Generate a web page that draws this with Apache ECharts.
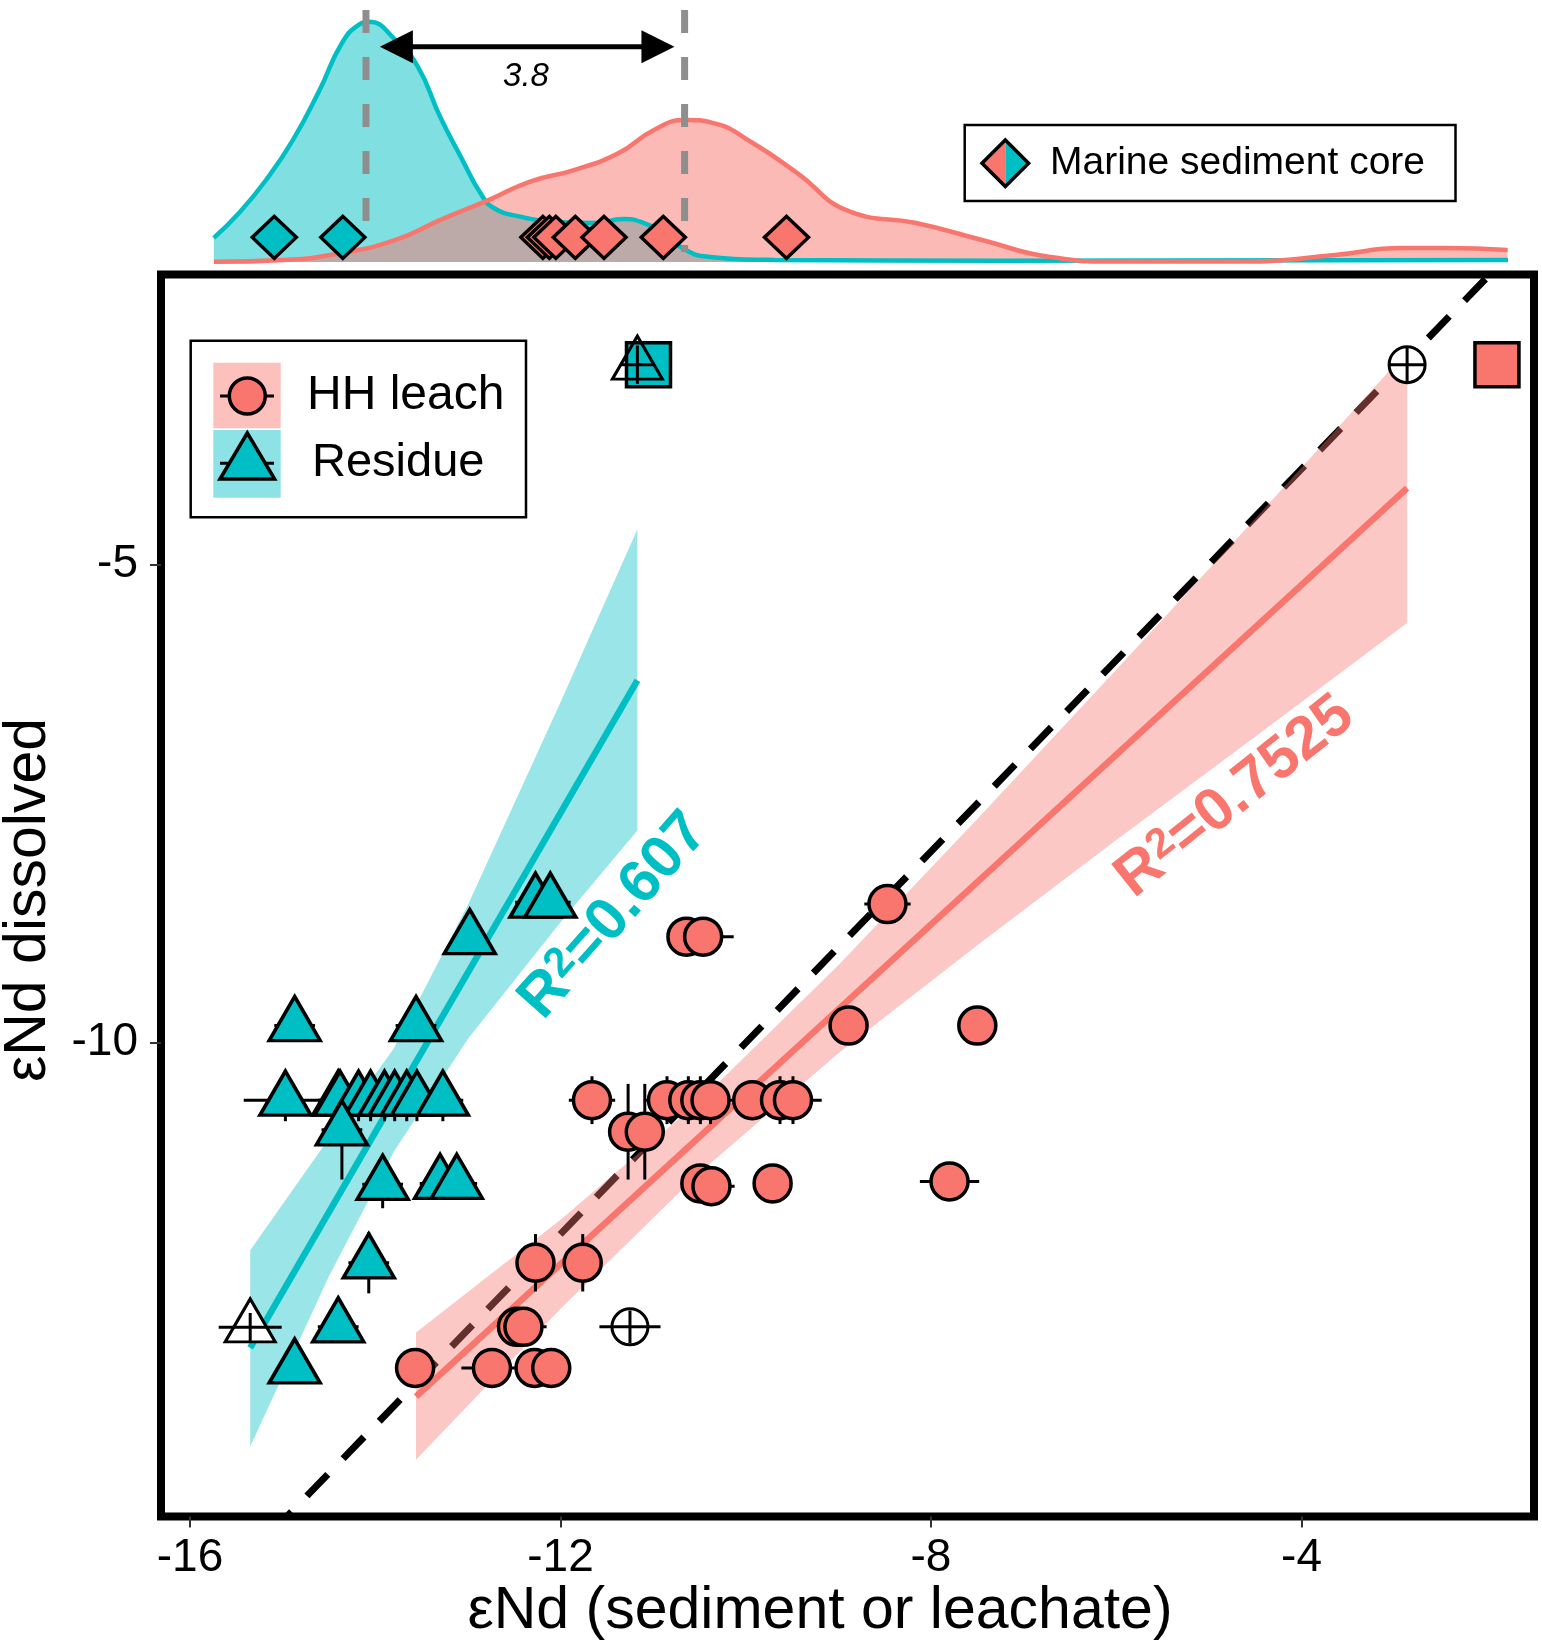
<!DOCTYPE html>
<html>
<head>
<meta charset="utf-8">
<title>eNd dissolved vs sediment</title>
<script src="https://cdn.jsdelivr.net/npm/echarts@6/dist/echarts.min.js"></script>
<style>
    html, body { margin: 0; padding: 0; background: #fff; }
    #main { width: 1542px; height: 1652px; }
</style>
</head>
<body>
<div id="main"></div>
<script>
var SALMON = '#F8766D';
var TEAL = '#00BFC4';
var FONT = "'Liberation Sans', Arial, Helvetica, sans-serif";

/* HH leach: x, y, x error, y error */
var leachX = [-8.47, -10.64, -10.46, -8.89, -7.50, -11.66, -10.85, -10.62, -10.49, -10.38, -9.93, -9.63, -9.49,
    -11.27, -11.09, -10.49, -10.37, -9.71, -7.80, -12.27, -11.76, -12.47, -12.40, -13.57, -12.74, -12.28, -12.10];
var leachY = [-8.55, -8.89, -8.89, -9.82, -9.82, -10.60, -10.60, -10.60, -10.60, -10.60, -10.60, -10.60, -10.60,
    -10.93, -10.93, -11.47, -11.50, -11.47, -11.45, -12.30, -12.30, -12.97, -12.97, -13.40, -13.40, -13.40, -13.40];
var leachXErr = [0.25, 0, 0.33, 0, 0, 0.25, 0.25, 0.25, 0.25, 0.25, 0, 0.25, 0.31,
    0, 0, 0, 0.25, 0, 0.32, 0, 0, 0, 0.25, 0, 0.33, 0, 0];
var leachYErr = [0, 0, 0, 0, 0, 0.25, 0.25, 0.25, 0.25, 0.25, 0, 0.25, 0.25,
    0.5, 0.5, 0, 0, 0, 0, 0.3, 0.3, 0, 0, 0, 0, 0, 0];

/* Residue */
var residueX = [-14.87, -13.56, -14.97, -14.40, -14.38, -14.18, -14.05, -13.90, -13.79, -13.66, -13.55, -13.27,
    -14.36, -13.92, -13.30, -13.12, -14.07, -14.87, -14.40, -12.98, -12.27, -12.11];
var residueY = [-9.82, -9.82, -10.60, -10.60, -10.60, -10.60, -10.60, -10.60, -10.60, -10.60, -10.60, -10.60,
    -10.91, -11.48, -11.47, -11.47, -12.30, -13.40, -12.97, -8.91, -8.53, -8.53];
var residueXErr = [0.22, 0.22, 0.45, 0.22, 0.22, 0.22, 0.22, 0.22, 0.22, 0.22, 0.22, 0.22,
    0.22, 0.22, 0.22, 0.22, 0.22, 0.18, 0.22, 0.18, 0.22, 0.22];
var residueYErr = [0.1, 0.1, 0.22, 0.22, 0.22, 0.22, 0.22, 0.22, 0.22, 0.22, 0.22, 0.22,
    0.52, 0.25, 0.12, 0.12, 0.32, 0.1, 0.12, 0.1, 0.1, 0.1];

/* open (crossed) symbols and squares */
var openCircleX = [-11.25, -2.86];
var openCircleY = [-12.97, -2.91];
var openCircleXErr = [0.33, 0.19];
var openCircleYErr = [0.17, 0.19];
var openTriX = [-15.35, -11.17];
var openTriY = [-12.975, -2.91];
var openTriXErr = [0.34, 0.17];
var openTriYErr = [0.15, 0.2];
var tealSquare = [-11.05, -2.91];
var salmonSquare = [-1.89, -2.91];

/* 1:1 line, fits and confidence bands */
var oneToOne = [-16.3, -1.5];
var leachFitX = [-13.56, -2.86];
var leachFitY = [-13.70, -4.20];
var leachBandX = [-13.56, -12.0, -10.5, -9.0, -7.5, -6.0, -4.5, -2.86];
var leachBandLo = [-14.36, -12.78, -11.36, -10.11, -8.98, -7.88, -6.80, -5.61];
var leachBandHi = [-13.03, -11.85, -10.61, -9.19, -7.66, -6.10, -4.52, -2.77];
var residueFitX = [-15.35, -11.17];
var residueFitY = [-13.19, -6.21];
var residueBandX = [-15.35, -14.5, -13.8, -13.0, -12.0, -11.17];
var residueBandLo = [-14.22, -12.44, -11.14, -9.96, -8.74, -7.78];
var residueBandHi = [-12.17, -11.00, -10.06, -8.56, -6.44, -4.63];

/* marine sediment core: density (relative) */
var tealDensX = [-15.743, -15.471, -15.179, -14.888, -14.601, -14.359, -14.167, -14.070, -13.787, -13.539, -13.301,
    -13.058, -12.865, -12.720, -12.432, -12.094, -11.617, -11.325, -11.131, -10.893, -10.648, -10.408, -9.684, -7.255, -1.771];
var tealDensY = [0.092, 0.187, 0.313, 0.466, 0.656, 0.836, 0.908, 0.917, 0.850, 0.745, 0.555,
    0.389, 0.263, 0.206, 0.173, 0.154, 0.149, 0.164, 0.153, 0.111, 0.046, 0.020, 0.008, 0.005, 0.008];
var salmonDensX = [-15.741, -14.985, -14.359, -13.781, -13.301, -12.772, -12.335, -11.854, -11.371, -10.991, -10.648,
    -10.359, -9.925, -9.447, -8.874, -8.162, -7.449, -6.730, -6.014, -4.588, -3.638, -2.919, -2.442, -1.775];
var salmonDensY = [0.001, 0.008, 0.034, 0.084, 0.160, 0.237, 0.306, 0.351, 0.416, 0.504, 0.542,
    0.531, 0.454, 0.340, 0.192, 0.149, 0.084, 0.020, 0.002, 0.002, 0.027, 0.053, 0.053, 0.046];
var coreTealX = [-15.09, -14.35];
var coreSalmonX = [-12.19, -12.12, -12.05, -11.84, -11.53, -10.89, -9.56];
var coreRugY = 0.094;
var modeX = [-14.10, -10.66];
var modeTop = 0.962;
var modeBottom = [0.153, 0.038];
var arrowX = [-13.95, -10.77];
var arrowY = 0.822;

var xTicks = [-16, -12, -8, -4];
var yTicks = [-10, -5];

function pairs(xs, ys) {
    var out = [];
    for (var i = 0; i < xs.length; i++) {
        out.push([xs[i], ys[i]]);
    }
    return out;
}

function errRows(xs, ys, xe, ye) {
    var out = [];
    for (var i = 0; i < xs.length; i++) {
        out.push([xs[i], ys[i], xe[i], ye[i]]);
    }
    return out;
}

function renderErr(params, api) {
    var x = api.value(0), y = api.value(1), xe = api.value(2), ye = api.value(3);
    var kids = [];
    var st = { stroke: '#000', lineWidth: 3 };
    if (xe > 0) {
        var a = api.coord([x - xe, y]), b = api.coord([x + xe, y]);
        kids.push({ type: 'line', shape: { x1: a[0], y1: a[1], x2: b[0], y2: b[1] }, style: st });
    }
    if (ye > 0) {
        var c = api.coord([x, y - ye]), d = api.coord([x, y + ye]);
        kids.push({ type: 'line', shape: { x1: c[0], y1: c[1], x2: d[0], y2: d[1] }, style: st });
    }
    return { type: 'group', children: kids };
}

function bandRender(bx, lo, hi, color) {
    return function (params, api) {
        var pts = [];
        for (var i = 0; i < bx.length; i++) pts.push(api.coord([bx[i], hi[i]]));
        for (var j = bx.length - 1; j >= 0; j--) pts.push(api.coord([bx[j], lo[j]]));
        return { type: 'polygon', shape: { points: pts }, style: { fill: color } };
    };
}

function renderArrow(params, api) {
    var a = api.coord([arrowX[0], arrowY]);
    var b = api.coord([arrowX[1], arrowY]);
    var len = 33, half = 16.5;
    return {
        type: 'group',
        children: [
            { type: 'line', shape: { x1: a[0] + len - 2, y1: a[1], x2: b[0] - len + 2, y2: b[1] },
                style: { stroke: '#000', lineWidth: 5 } },
            { type: 'polygon', shape: { points: [[a[0], a[1]], [a[0] + len, a[1] - half], [a[0] + len, a[1] + half]] },
                style: { fill: '#000' } },
            { type: 'polygon', shape: { points: [[b[0], b[1]], [b[0] - len, b[1] - half], [b[0] - len, b[1] + half]] },
                style: { fill: '#000' } }
        ]
    };
}

function modeLine(i) {
    return {
        type: 'line', xAxisIndex: 1, yAxisIndex: 1, z: 3, symbol: 'none', silent: true,
        data: [[modeX[i], modeTop], [modeX[i], modeBottom[i]]],
        lineStyle: { color: '#8E8E8E', width: 7, type: [23, 24] }
    };
}

var openTriData = pairs(openTriX, openTriY).map(function (p, i) {
    return { value: p, itemStyle: { color: i === 0 ? '#fff' : 'rgba(0,0,0,0)' } };
});

var txt = function (text, x, y, size, extra) {
    var el = {
        type: 'text', x: x, y: y, z: 100,
        style: { text: text, x: 0, y: 0, fill: '#000', fontSize: size, fontFamily: FONT, align: 'center', verticalAlign: 'middle' }
    };
    for (var k in extra) {
        if (k === 'rotation') el.rotation = extra[k];
        else el.style[k] = extra[k];
    }
    return el;
};

// R² label with a real superscript
function rLabel(value, x, y, color, deg) {
    return txt('R{s|2}=' + value, x, y, 60, {
        fill: color, fontWeight: 'bold', rotation: deg * Math.PI / 180,
        rich: { s: { fontSize: 42, fontWeight: 'bold', fontFamily: FONT, fill: color, verticalAlign: 'top', lineHeight: 60 } }
    });
}

var chart = echarts.init(document.getElementById('main'));
var option = {
    backgroundColor: '#fff',
    animation: false,
    grid: [
        { left: 161, top: 274.5, right: 8, bottom: 135.5, show: true, borderColor: '#000', borderWidth: 8,
            backgroundColor: 'rgba(0,0,0,0)' },
        { left: 161, right: 8, top: 0, height: 262 }
    ],
    xAxis: [
        {
            gridIndex: 0, type: 'value', min: -16.313, max: -1.49,
            axisLine: { show: false }, splitLine: { show: false },
            axisTick: { show: true, customValues: xTicks, length: 11, lineStyle: { color: '#333', width: 2 } },
            axisLabel: { customValues: xTicks, fontSize: 46, color: '#000', margin: 19, fontFamily: FONT }
        },
        { gridIndex: 1, type: 'value', min: -16.313, max: -1.49, show: false }
    ],
    yAxis: [
        {
            gridIndex: 0, type: 'value', min: -14.953, max: -1.967,
            axisLine: { show: false }, splitLine: { show: false },
            axisTick: { show: true, customValues: yTicks, length: 11, lineStyle: { color: '#333', width: 2 } },
            axisLabel: { customValues: yTicks, fontSize: 46, color: '#000', margin: 23, fontFamily: FONT }
        },
        { gridIndex: 1, type: 'value', min: 0, max: 1, show: false }
    ],
    series: [
        // 1:1
        { type: 'line', z: 1, symbol: 'none', silent: true, data: pairs(oneToOne, oneToOne),
            lineStyle: { color: '#000', width: 7, type: [30, 22] } },
        // bands
        { type: 'custom', z: 2, silent: true, data: [[leachBandX[0], leachBandLo[0]]],
            renderItem: bandRender(leachBandX, leachBandLo, leachBandHi, 'rgba(248,118,109,0.4)') },
        { type: 'custom', z: 2, silent: true, data: [[residueBandX[0], residueBandLo[0]]],
            renderItem: bandRender(residueBandX, residueBandLo, residueBandHi, 'rgba(0,191,196,0.4)') },
        // fits
        { type: 'line', z: 3, symbol: 'none', silent: true, data: pairs(leachFitX, leachFitY),
            lineStyle: { color: SALMON, width: 6.5 } },
        { type: 'line', z: 3, symbol: 'none', silent: true, data: pairs(residueFitX, residueFitY),
            lineStyle: { color: TEAL, width: 6.5 } },
        // error bars
        { type: 'custom', z: 4, silent: true, renderItem: renderErr, encode: { x: 0, y: 1 },
            data: errRows(leachX, leachY, leachXErr, leachYErr) },
        { type: 'custom', z: 4, silent: true, renderItem: renderErr, encode: { x: 0, y: 1 },
            data: errRows(residueX, residueY, residueXErr, residueYErr) },
        // points
        { name: 'HH leach', type: 'scatter', z: 5, silent: true, symbol: 'circle', symbolSize: 37,
            data: pairs(leachX, leachY),
            itemStyle: { color: SALMON, borderColor: '#000', borderWidth: 3.5, opacity: 1 } },
        { name: 'Residue', type: 'scatter', z: 5, silent: true, symbol: 'triangle', symbolSize: [51, 44],
            symbolOffset: [0, -7], data: pairs(residueX, residueY),
            itemStyle: { color: TEAL, borderColor: '#000', borderWidth: 3.5, opacity: 1 } },
        { type: 'scatter', z: 6, silent: true, symbol: 'rect', symbolSize: 44, data: [tealSquare],
            itemStyle: { color: TEAL, borderColor: '#000', borderWidth: 3.5, opacity: 1 } },
        { type: 'scatter', z: 6, silent: true, symbol: 'rect', symbolSize: 44, data: [salmonSquare],
            itemStyle: { color: SALMON, borderColor: '#000', borderWidth: 3.5, opacity: 1 } },
        { type: 'scatter', z: 7, silent: true, symbol: 'circle', symbolSize: 36,
            data: pairs(openCircleX, openCircleY),
            itemStyle: { color: '#fff', borderColor: '#000', borderWidth: 3, opacity: 1 } },
        { type: 'scatter', z: 7, silent: true, symbol: 'triangle', symbolSize: [50, 43], symbolOffset: [0, -7],
            data: openTriData, itemStyle: { borderColor: '#000', borderWidth: 3, opacity: 1 } },
        { type: 'custom', z: 8, silent: true, renderItem: renderErr, encode: { x: 0, y: 1 },
            data: errRows(openCircleX, openCircleY, openCircleXErr, openCircleYErr) },
        { type: 'custom', z: 8, silent: true, renderItem: renderErr, encode: { x: 0, y: 1 },
            data: errRows(openTriX, openTriY, openTriXErr, openTriYErr) },

        // top marginal density
        { type: 'line', xAxisIndex: 1, yAxisIndex: 1, z: 1, symbol: 'none', silent: true, smooth: 0.5,
            data: pairs(tealDensX, tealDensY),
            lineStyle: { width: 0 }, areaStyle: { color: 'rgba(0,191,196,0.5)', opacity: 1 } },
        { type: 'line', xAxisIndex: 1, yAxisIndex: 1, z: 1, symbol: 'none', silent: true, smooth: 0.5,
            data: pairs(salmonDensX, salmonDensY),
            lineStyle: { width: 0 }, areaStyle: { color: 'rgba(248,118,109,0.5)', opacity: 1 } },
        { type: 'line', xAxisIndex: 1, yAxisIndex: 1, z: 2, symbol: 'none', silent: true, smooth: 0.5,
            data: pairs(tealDensX, tealDensY), lineStyle: { color: TEAL, width: 4.5 } },
        { type: 'line', xAxisIndex: 1, yAxisIndex: 1, z: 2, symbol: 'none', silent: true, smooth: 0.5,
            data: pairs(salmonDensX, salmonDensY), lineStyle: { color: SALMON, width: 4.5 } },
        modeLine(0),
        modeLine(1),
        { type: 'scatter', xAxisIndex: 1, yAxisIndex: 1, z: 4, silent: true, symbol: 'diamond', symbolSize: [44, 42],
            data: coreTealX.map(function (x) { return [x, coreRugY]; }),
            itemStyle: { color: TEAL, borderColor: '#000', borderWidth: 3.5, opacity: 1 } },
        { type: 'scatter', xAxisIndex: 1, yAxisIndex: 1, z: 4, silent: true, symbol: 'diamond', symbolSize: [44, 42],
            data: coreSalmonX.map(function (x) { return [x, coreRugY]; }),
            itemStyle: { color: SALMON, borderColor: '#000', borderWidth: 3.5, opacity: 1 } },
        { type: 'custom', xAxisIndex: 1, yAxisIndex: 1, z: 5, silent: true, renderItem: renderArrow,
            data: [[arrowX[0], arrowY]] }
    ],
    graphic: [
        // legend: HH leach / Residue
        { type: 'rect', z: 100, shape: { x: 190.7, y: 340.7, width: 335.3, height: 176.6 },
            style: { fill: '#fff', stroke: '#000', lineWidth: 2.5 } },
        { type: 'rect', z: 101, shape: { x: 213.3, y: 362.7, width: 67.4, height: 65.6 },
            style: { fill: 'rgba(248,118,109,0.45)' } },
        { type: 'rect', z: 101, shape: { x: 213.3, y: 430, width: 67.4, height: 67.7 },
            style: { fill: 'rgba(0,191,196,0.45)' } },
        { type: 'line', z: 102, shape: { x1: 220, y1: 396, x2: 274, y2: 396 }, style: { stroke: '#000', lineWidth: 3 } },
        { type: 'circle', z: 103, shape: { cx: 247.3, cy: 396, r: 18 },
            style: { fill: SALMON, stroke: '#000', lineWidth: 3.5 } },
        { type: 'line', z: 102, shape: { x1: 220, y1: 463.3, x2: 274, y2: 463.3 }, style: { stroke: '#000', lineWidth: 3 } },
        { type: 'polygon', z: 103, shape: { points: [[247.3, 433], [220, 479], [274.6, 479]] },
            style: { fill: TEAL, stroke: '#000', lineWidth: 3.5 } },
        txt('HH leach', 307, 396, 48, { align: 'left' }),
        txt('Residue', 312, 463, 47, { align: 'left' }),

        // legend: marine sediment core
        { type: 'rect', z: 100, shape: { x: 964.7, y: 125, width: 490.8, height: 76 },
            style: { fill: '#fff', stroke: '#000', lineWidth: 2.5 } },
        { type: 'polygon', z: 101, shape: { points: [[1005.3, 140], [982, 163.3], [1005.3, 186.6]] },
            style: { fill: SALMON } },
        { type: 'polygon', z: 101, shape: { points: [[1005.3, 140], [1028.6, 163.3], [1005.3, 186.6]] },
            style: { fill: TEAL } },
        { type: 'polygon', z: 102, shape: { points: [[1005.3, 140], [1028.6, 163.3], [1005.3, 186.6], [982, 163.3]] },
            style: { fill: 'none', stroke: '#000', lineWidth: 3.5 } },
        txt('Marine sediment core', 1050, 163, 39, { align: 'left' }),

        // annotations
        txt('3.8', 526, 77, 33, { fontStyle: 'italic' }),
        rLabel('0.607', 614, 916, TEAL, 48.5),
        rLabel('0.7525', 1235, 797, SALMON, 38.5),

        // axis titles
        txt('εNd (sediment or leachate)', 820, 1612, 59, {}),
        txt('εNd dissolved', 29, 900, 59, { rotation: Math.PI / 2 })
    ]
};
chart.setOption(option);
</script>
</body>
</html>
